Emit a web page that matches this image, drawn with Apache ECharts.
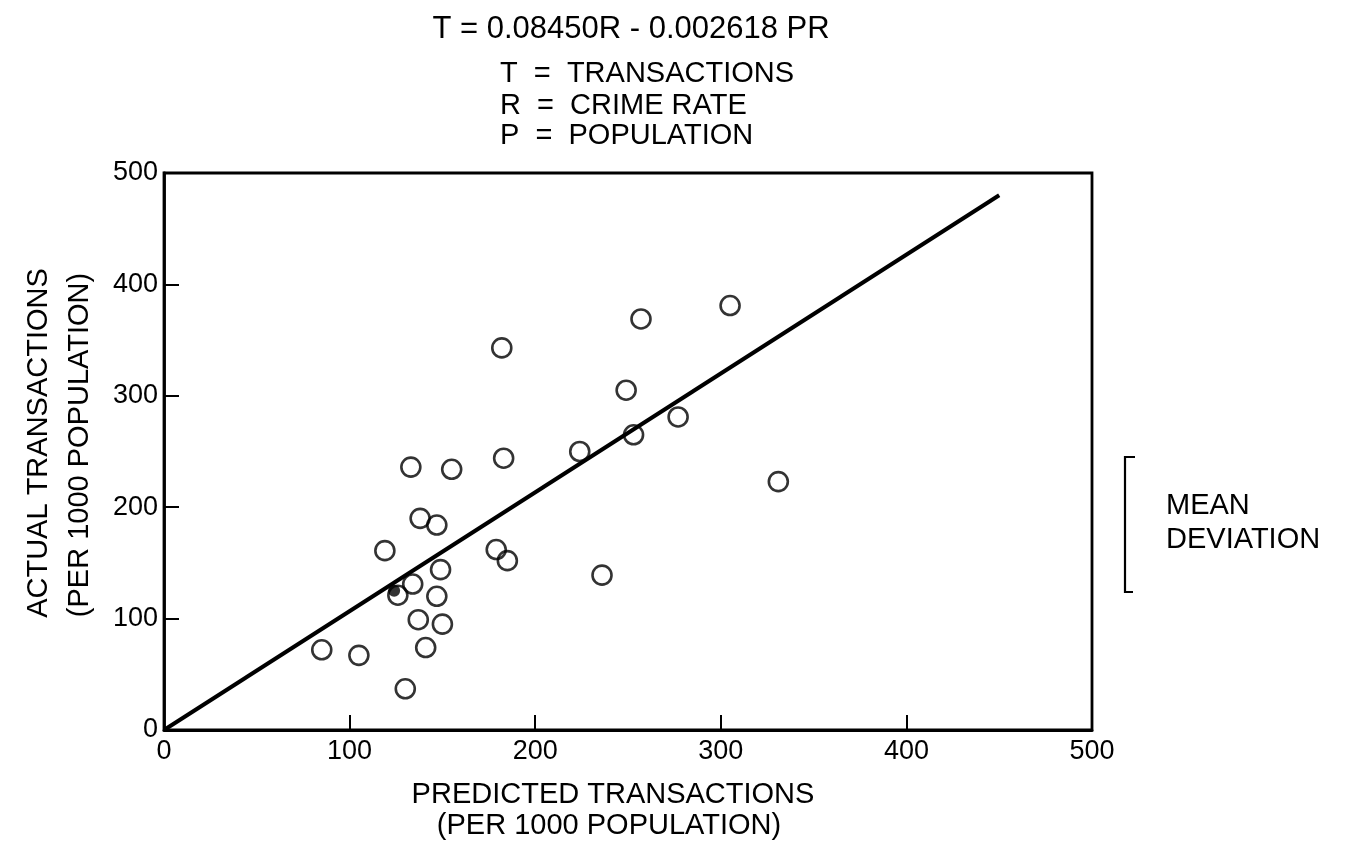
<!DOCTYPE html>
<html><head><meta charset="utf-8">
<script src="https://cdn.jsdelivr.net/npm/echarts@6/dist/echarts.min.js"></script>
<style>html,body{margin:0;padding:0;background:#fff}#c{width:1350px;height:865px}</style>
</head><body><div id="c"></div>
<script>
// Data (predicted vs actual transactions per 1000 population)
const predicted = [85,105,130,126,134,137,150,147,149,141,119,138,147,133,155,179,185,183,182,224,236,249,253,257,277,305,331];
const actual    = [72, 67, 37,121,131, 99, 95,120,144, 74,161,190,184,236,234,162,152,244,343,250,139,305,265,369,281,381,223];
const filledPredicted = [124];
const filledActual = [125];
const fitLineX = [0, 450];
const fitLineY = [0, 480];
const axisMin = 0, axisMax = 500, axisStep = 100;

const FONT = '"Liberation Sans", Arial, sans-serif';
const pts = predicted.map((p, i) => [p, actual[i]]);
const filledPts = filledPredicted.map((p, i) => [p, filledActual[i]]);
const fitPts = fitLineX.map((x, i) => [x, fitLineY[i]]);

function txt(text, x, y, size, align, rot) {
  return {
    type: 'text', x: x, y: y, rotation: rot || 0, silent: true,
    style: { text: text, font: size + 'px ' + FONT, fill: '#000',
             textAlign: align || 'center', textVerticalAlign: 'middle' }
  };
}

const chart = echarts.init(document.getElementById('c'));
chart.setOption({
  animation: false,
  backgroundColor: '#fff',
  grid: { left: 164, right: 258, top: 173, bottom: 135, show: true,
          borderColor: '#000', borderWidth: 2.8, backgroundColor: 'transparent' },
  xAxis: {
    type: 'value', min: axisMin, max: axisMax, interval: axisStep,
    axisLine: { show: true, onZero: false, lineStyle: { color: '#000', width: 2.8 } },
    axisTick: { show: true, inside: true, length: 15, lineStyle: { color: '#000', width: 2 } },
    axisLabel: { color: '#000', fontSize: 27, fontFamily: FONT, margin: 8 },
    splitLine: { show: false }
  },
  yAxis: {
    type: 'value', min: axisMin, max: axisMax, interval: axisStep,
    axisLine: { show: true, onZero: false, lineStyle: { color: '#000', width: 2.8 } },
    axisTick: { show: true, inside: true, length: 15, lineStyle: { color: '#000', width: 2 } },
    axisLabel: { color: '#000', fontSize: 27, fontFamily: FONT, margin: 6 },
    splitLine: { show: false }
  },
  series: [
    { type: 'line', data: fitPts, symbol: 'none', silent: true,
      lineStyle: { color: '#000', width: 4 }, z: 2 },
    { type: 'scatter', data: pts, symbol: 'circle', symbolSize: 19,
      itemStyle: { color: 'rgba(0,0,0,0)', borderColor: '#000', borderWidth: 2.6 }, z: 3 },
    { type: 'scatter', data: filledPts, symbol: 'circle', symbolSize: 12,
      itemStyle: { color: '#000' }, z: 4 }
  ],
  graphic: [
    txt('T = 0.08450R - 0.002618 PR', 631, 29, 31, 'center'),
    txt('T  =  TRANSACTIONS', 500, 74, 29, 'left'),
    txt('R  =  CRIME RATE', 500, 106, 29, 'left'),
    txt('P  =  POPULATION', 500, 136, 29, 'left'),
    txt('PREDICTED TRANSACTIONS', 613, 795, 29, 'center'),
    txt('(PER 1000 POPULATION)', 609, 826, 29, 'center'),
    txt('ACTUAL TRANSACTIONS', 39, 443, 29, 'center', Math.PI / 2),
    txt('(PER 1000 POPULATION)', 80, 445, 29, 'center', Math.PI / 2),
    txt('MEAN', 1166, 506, 29, 'left'),
    txt('DEVIATION', 1166, 540, 29, 'left'),
    { type: 'polyline', silent: true,
      shape: { points: [[1135, 457], [1125, 457], [1125, 592], [1133, 592]] },
      style: { stroke: '#000', lineWidth: 2.2, fill: null } }
  ]
});
</script>
</body></html>
